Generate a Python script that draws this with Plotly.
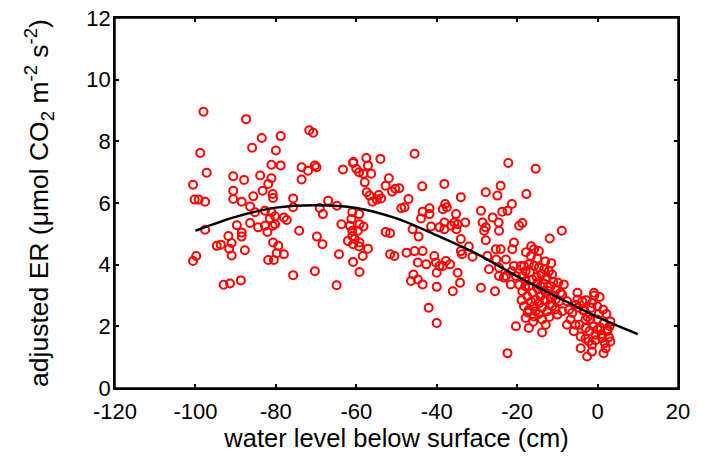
import plotly.graph_objects as go

# water level (cm) and adjusted ER
wl = [
    -98.0, -87.4, -83.5, -85.9, -98.8, -97.2, -100.6, -90.6, -87.9, -83.9, -90.6, -100.2, -99.2, -97.6,
    -90.6, -88.5, -85.6, -83.3, -86.4, -85.2, -97.6, -89.7, -86.4, -84.4, -88.5, -91.8, -88.5, -91.0,
    -94.7, -93.7, -91.6, -87.7, -91.0, -100.6, -99.8, -93.0, -91.4, -88.7,
    -78.8, -71.7, -70.7, -80.0, -81.1, -78.8, -81.1, -73.6, -72.0, -70.3, -69.9, -73.6, -63.3, -60.8,
    -81.9, -80.8, -80.7, -75.7, -75.7, -67.0, -64.8, -69.1, -68.3, -82.7, -81.1, -81.5, -80.2, -82.7,
    -80.8, -82.1, -80.2, -78.0, -77.3, -74.2, -69.8, -68.4, -63.7, -61.6, -61.0, -62.1, -61.0, -80.7,
    -79.4, -79.8, -78.0, -81.9, -80.5, -64.3, -60.8, -75.7, -70.3, -64.9,
    -45.5, -54.0, -57.5, -60.7, -60.0, -59.3, -57.1, -56.3, -58.2, -57.9, -51.9, -52.7, -50.3, -49.3,
    -51.1, -43.6, -57.4, -56.7, -54.4, -53.8, -54.9, -47.0, -56.0, -48.8, -48.0, -43.5, -41.8, -41.8,
    -43.9, -41.4, -39.3, -38.5, -38.1, -61.0, -59.3, -61.2, -59.2, -58.2, -59.6, -60.4, -59.2, -60.8,
    -59.3, -57.1, -58.4, -59.2, -52.7, -51.6, -51.6, -50.5, -47.5, -45.5, -43.5, -46.0, -44.5, -44.7,
    -42.6, -40.6, -40.2, -39.3, -40.0, -45.8, -46.4, -44.7, -43.5, -40.0, -42.0, -40.0,
    -34.0, -27.8, -24.1, -24.9, -21.3, -29.0, -23.7, -22.4, -26.1, -24.6, -28.6, -27.8, -28.2, -27.8,
    -24.5, -37.9, -37.5, -35.2, -35.6, -38.1, -38.1, -32.9, -36.4, -34.8, -35.1, -34.0, -32.0, -34.0,
    -33.7, -31.1, -37.7, -36.7, -38.5, -34.8, -34.2, -36.0, -29.0, -25.5, -27.4, -27.0, -25.3, -24.1,
    -25.2, -22.8, -24.5, -22.8, -21.6, -20.8, -20.3, -21.2, -23.3, -24.5, -20.3, -22.4,
    -22.2, -15.4, -17.7,
    -19.5, -18.7, -11.9, -8.9, -20.8, -15.8, -14.6, -16.6, -19.1, -21.3,
    -18.3, -17.9, -17.1, -15.8, -14.6, -13.3, -12.1, -11.3, -9.8, -9.2, -9.6, -18.7, -17.9, -17.1,
    -16.2, -15.0, -14.2, -12.9, -11.7, -10.4, -18.7, -17.5, -16.2, -15.4, -14.2, -12.9, -11.7, -10.4,
    -18.3, -17.1, -15.4, -13.8, -12.5, -11.3, -17.9, -15.8, -13.8, -12.9, -17.1, -13.8, -7.6, -8.8,
    -7.6, -8.8, -10.0,
    -18.0, -16.8, -15.2, -14.0, -12.6, -11.0, -16.5, -14.8, -13.5, -12.2, -10.8, -17.4, -15.9, -14.5,
    -13.1, -11.9, -10.5, -16.0, -14.6, -12.0, -19.5, -18.9, -13.0, -11.5, -15.0, -16.5, -17.8,
    -8.4, -5.0, -0.9, 1.4, 3.2, -7.1, -6.3, -6.7, -5.5, -5.9, -4.2, -3.0, -1.8, -3.4,
    -1.4, -0.1, -2.2, -0.5, 0.7, 1.1, 2.0, 2.4, 3.2, -0.1, -4.2, -1.4, -2.6, 1.5,
    -5.0, -3.8, -3.0, -1.4,
    -3.5, -2.5, -1.0, 0.3, 1.5, 2.5, -4.5, -2.0, -0.5, 1.0, 2.8, -3.0, 0.0, 1.8,
    -1.5, -4.8, -5.5, -2.8, 0.5, -0.8, 3.0, 2.2,
]
er = [
    8.96, 8.72, 8.11, 7.79, 7.62, 6.98, 6.59, 6.87, 6.75, 6.89, 6.40, 6.11, 6.11, 6.04,
    6.13, 6.04, 6.22, 6.40, 5.89, 5.70, 5.13, 5.28, 5.35, 5.21, 5.04, 4.93, 4.91, 4.70,
    4.61, 4.65, 4.52, 4.47, 4.30, 4.12, 4.28, 3.35, 3.39, 3.49,
    8.17, 8.36, 8.28, 7.70, 7.24, 7.22, 6.80, 7.16, 7.05, 7.22, 7.16, 6.76, 7.09, 7.30,
    6.62, 6.29, 6.16, 6.15, 5.86, 6.07, 5.91, 5.84, 5.64, 5.75, 5.70, 5.50, 5.57, 5.26,
    5.26, 5.06, 5.31, 5.53, 5.45, 5.10, 4.91, 4.66, 5.31, 5.26, 5.10, 4.77, 4.93, 4.72,
    4.61, 4.37, 4.34, 4.15, 4.15, 4.34, 4.09, 3.66, 3.79, 3.33,
    7.60, 7.43, 7.46, 7.33, 7.11, 7.00, 7.22, 6.95, 6.95, 6.67, 6.80, 6.56, 6.46, 6.48,
    6.37, 6.54, 6.35, 6.24, 6.26, 6.15, 6.11, 6.13, 6.04, 5.83, 5.86, 5.72, 5.83, 5.64,
    5.50, 5.24, 5.21, 5.80, 6.62, 5.70, 5.64, 5.48, 5.31, 5.24, 5.10, 4.83, 4.72, 4.66,
    4.59, 4.52, 4.28, 3.76, 5.06, 5.02, 4.34, 4.28, 4.39, 4.44, 4.44, 5.15, 4.91, 4.07,
    4.01, 4.28, 4.07, 3.96, 3.74, 3.68, 3.47, 3.52, 3.36, 3.28, 2.60, 2.11,
    6.19, 6.35, 6.56, 6.24, 5.97, 5.75, 5.72, 5.75, 5.53, 5.37, 5.37, 5.21, 5.10, 4.79,
    5.10, 5.97, 5.86, 5.64, 5.37, 5.37, 5.15, 5.37, 5.26, 5.31, 5.15, 4.83, 4.59, 4.44,
    4.34, 4.26, 4.12, 4.01, 3.96, 3.74, 3.41, 3.14, 3.25, 3.14, 4.28, 3.85, 4.50, 4.50,
    4.17, 4.17, 3.90, 3.63, 3.36, 3.96, 3.63, 4.50, 3.58, 3.63, 2.00, 1.13,
    7.30, 7.11, 6.29,
    5.26, 5.35, 4.85, 5.10, 4.72, 4.50, 4.44, 4.28, 3.96, 3.79,
    3.96, 3.79, 4.01, 3.96, 3.90, 3.85, 3.79, 3.68, 3.41, 3.09, 2.81, 3.63, 3.47, 3.30,
    3.52, 3.41, 3.30, 3.52, 3.30, 3.20, 3.14, 2.98, 3.09, 2.87, 2.98, 3.09, 2.92, 2.87,
    2.65, 2.54, 2.49, 2.60, 2.49, 2.65, 2.27, 2.32, 2.22, 2.05, 1.95, 1.80, 2.05, 3.03,
    2.81, 2.49, 2.38,
    3.30, 3.75, 3.60, 3.70, 3.60, 3.45, 2.80, 3.20, 3.40, 3.15, 3.00, 2.45, 2.65, 2.75,
    2.85, 2.70, 2.55, 2.15, 2.40, 2.30, 3.35, 2.85, 4.10, 4.05, 4.20, 4.60, 4.40,
    3.36, 3.09, 3.09, 2.54, 2.16, 2.54, 2.43, 2.22, 2.05, 1.84, 1.67, 1.95, 2.22, 2.54,
    2.76, 2.65, 1.51, 1.73, 1.95, 1.62, 1.29, 1.84, 1.51, 2.22, 1.29, 1.40, 1.02, 1.13,
    2.87, 2.81, 2.22, 1.18,
    2.50, 2.30, 2.00, 2.40, 2.10, 1.90, 2.05, 1.85, 1.55, 1.75, 1.65, 1.60, 1.90, 1.45,
    2.60, 2.60, 2.70, 2.85, 2.95, 3.00, 2.00, 2.40,
]

# fitted curve
fit_x = [-100, -90, -80, -70, -60, -50, -40, -30, -20, -10, 0, 10]
fit_y = [5.10, 5.55, 5.85, 5.93, 5.84, 5.50, 4.95, 4.35, 3.62, 2.95, 2.30, 1.75]

# x tick labels use a plain hyphen, as in the original
x_ticks = [-120, -100, -80, -60, -40, -20, 0, 20]
x_labels = ["-120", "-100", "-80", "-60", "-40", "-20", "0", "20"]

font = "Liberation Sans, Arial, sans-serif"

fig = go.Figure()
fig.add_trace(go.Scatter(
    x=wl, y=er, mode="markers",
    marker=dict(symbol="circle-open", size=8, color="#ff0000", line=dict(width=2, color="#ff0000")),
    showlegend=False,
))
fig.add_trace(go.Scatter(
    x=fit_x, y=fit_y, mode="lines",
    line=dict(color="black", width=2.5, shape="spline"),
    showlegend=False,
))

axis_common = dict(
    showgrid=False, zeroline=False, showline=True, linecolor="black", linewidth=1.5,
    mirror="ticks", ticks="inside", ticklen=4, tickwidth=1.5, tickcolor="black", automargin=False,
    ticklabeloverflow="allow",
    tickfont=dict(family=font, size=22, color="black"),
)

fig.update_layout(
    width=711, height=459,
    margin=dict(l=115, r=33, t=18, b=71),
    paper_bgcolor="white", plot_bgcolor="white",
    font=dict(family=font, color="black"),
    xaxis=dict(
        range=[-120, 20], tickvals=x_ticks, ticktext=x_labels, ticklabelstandoff=3,
        title=dict(text="water level below surface (cm)", font=dict(family=font, size=25.5), standoff=6),
        **axis_common,
    ),
    yaxis=dict(
        range=[0, 12], tick0=0, dtick=2, ticklabelstandoff=-2,
        title=dict(text="adjusted ER (μmol CO<sub>2</sub> m<sup>-2</sup> s<sup>-2</sup>)",
                   font=dict(family=font, size=26.5), standoff=30),
        **axis_common,
    ),
    # closed box round the plot area
    shapes=[dict(type="rect", xref="paper", yref="paper", x0=0, x1=1, y0=0, y1=1,
                 line=dict(color="black", width=1.5), layer="above")],
)

# drop the page's default body margin so the figure sits at the window corner
fig.write_html("out.html", config={"displayModeBar": False},
               post_script="document.body.style.margin = '0';")
